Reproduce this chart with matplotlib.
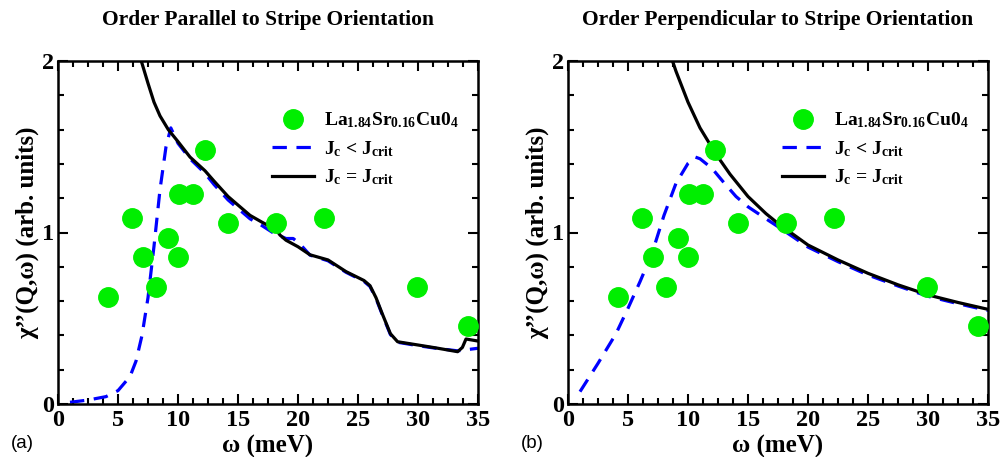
import matplotlib
matplotlib.use("Agg")
import matplotlib.pyplot as plt
from matplotlib.ticker import MultipleLocator

plt.rcParams['font.family'] = ['Liberation Serif', 'DejaVu Serif']
plt.rcParams['font.weight'] = 'bold'
plt.rcParams['mathtext.fontset'] = 'custom'
plt.rcParams['mathtext.rm'] = 'Liberation Serif:bold'
plt.rcParams['mathtext.it'] = 'Liberation Serif:bold'
plt.rcParams['mathtext.bf'] = 'Liberation Serif:bold'

# experimental data (same in both panels)
exp_w = [4.14, 6.17, 7.11, 8.17, 9.19, 9.97, 10.1, 11.28, 12.25, 14.17, 18.2, 22.17, 29.94, 34.14]
exp_chi = [0.626, 1.083, 0.855, 0.684, 0.97, 0.855, 1.224, 1.224, 1.481, 1.057, 1.057, 1.083, 0.684, 0.457]

# panel (a) curves
a_crit_w = [6.94, 7.5, 8.0, 8.5, 9.19, 10.0, 11.0, 12.25, 13.0, 14.17, 15.0, 16.0, 17.0, 17.8, 18.2, 18.5,
            19.0, 20.0, 21.0, 22.5, 24.0, 25.5, 26.0, 26.5, 27.0, 27.7, 28.3, 30.0, 31.5, 33.3, 33.7, 34.0, 35.0]
a_crit_chi = [2.0, 1.87, 1.76, 1.68, 1.60, 1.53, 1.44, 1.36, 1.30, 1.21, 1.16, 1.10, 1.06, 1.03, 1.015, 0.985,
              0.955, 0.917, 0.87, 0.84, 0.772, 0.72, 0.69, 0.62, 0.53, 0.41, 0.363, 0.344, 0.327, 0.305, 0.33,
              0.379, 0.367]
a_sub_w = [1.0, 2.5, 4.0, 5.0, 6.0, 6.5, 7.0, 7.5, 8.0, 8.5, 9.0, 9.4, 10.0, 11.0, 12.25, 13.0, 14.17, 15.0,
           16.0, 17.0, 18.0, 19.0, 19.6, 20.2, 21.0, 22.5, 24.0, 25.5, 26.0, 26.5, 27.0, 27.7, 28.3, 30.0, 31.5,
           33.3, 35.0]
a_sub_chi = [0.01, 0.023, 0.043, 0.078, 0.16, 0.25, 0.40, 0.62, 0.92, 1.25, 1.50, 1.61, 1.52, 1.43, 1.345, 1.28,
             1.19, 1.14, 1.08, 1.04, 0.995, 0.965, 0.965, 0.93, 0.868, 0.835, 0.768, 0.715, 0.685, 0.615, 0.525,
             0.405, 0.36, 0.34, 0.325, 0.31, 0.325]

# panel (b) curves
b_crit_w = [8.71, 9.0, 9.5, 10.0, 11.0, 12.3, 13.5, 15.0, 16.5, 17.5, 20.0, 22.5, 25.0, 27.5, 30.0, 32.5, 35.0]
b_crit_chi = [2.0, 1.94, 1.85, 1.76, 1.61, 1.46, 1.34, 1.21, 1.11, 1.053, 0.927, 0.84, 0.762, 0.695, 0.636,
              0.592, 0.552]
b_sub_w = [1.0, 2.5, 4.0, 5.0, 6.0, 7.0, 8.0, 9.0, 10.0, 10.6, 11.0, 12.0, 13.0, 14.0, 15.0, 16.5, 17.5, 20.0,
           22.5, 25.0, 27.5, 30.0, 32.5, 35.0]
b_sub_chi = [0.072, 0.237, 0.41, 0.558, 0.713, 0.878, 1.10, 1.287, 1.403, 1.44, 1.43, 1.374, 1.29, 1.21, 1.15,
             1.08, 1.034, 0.915, 0.83, 0.752, 0.688, 0.628, 0.585, 0.545]

titles = ["Order Parallel to Stripe Orientation", "Order Perpendicular to Stripe Orientation"]
panel_labels = ["(a)", "(b)"]

fig = plt.figure(figsize=(10.03, 4.57), dpi=100)
lefts = [58 / 1003, 568 / 1003]
W = 420 / 1003
B = (457 - 404) / 457
H = 343 / 457

green = '#00ee00'
blue = '#0000ff'

panels = [(a_sub_w, a_sub_chi, a_crit_w, a_crit_chi), (b_sub_w, b_sub_chi, b_crit_w, b_crit_chi)]
for i, (sw, sc, cw, cc) in enumerate(panels):
    ax = fig.add_axes([lefts[i], B, W, H])
    ax.plot(exp_w, exp_chi, 'o', color=green, markersize=14, linestyle='none',
            label='La$_{\\mathrm{1.84}}$Sr$_{\\mathrm{0.16}}$Cu0$_{\\mathrm{4}}$', zorder=3)
    ax.plot(sw, sc, color=blue, lw=2.3, dashes=(4.5, 3.0), label='J$_{\\mathrm{c}}$ < J$_{\\mathrm{crit}}$', zorder=2)
    ax.plot(cw, cc, color='black', lw=2.3, label='J$_{\\mathrm{c}}$ = J$_{\\mathrm{crit}}$', zorder=2)
    ax.set_xlim(0, 35)
    ax.set_ylim(0, 2)
    ax.xaxis.set_major_locator(MultipleLocator(5))
    ax.xaxis.set_minor_locator(MultipleLocator(1.25))
    ax.yaxis.set_major_locator(MultipleLocator(1))
    ax.yaxis.set_minor_locator(MultipleLocator(0.2))
    ax.tick_params(which='both', direction='in', top=True, right=True, width=1.5, labelsize=17.5)
    ax.tick_params(axis='x', which='major', pad=4)
    ax.tick_params(axis='y', which='major', pad=3)
    ax.tick_params(which='major', length=7)
    ax.tick_params(which='minor', length=4)
    for s in ax.spines.values():
        s.set_linewidth(1.8)
    for lab in ax.get_xticklabels() + ax.get_yticklabels():
        lab.set_fontweight('bold')
    ax.set_xlabel('ω (meV)', fontsize=18, fontweight='bold', labelpad=3)
    ax.set_ylabel('χ’’(Q,ω) (arb. units)', fontsize=18, fontweight='bold', labelpad=2)
    ax.set_title(titles[i], fontsize=15.5, fontweight='bold', pad=26)
    leg = ax.legend(loc='upper left', bbox_to_anchor=(0.49, 0.878), frameon=False, fontsize=14,
                    handlelength=2.2, handletextpad=0.5, labelspacing=0.45, borderaxespad=0)
    fig.text(lefts[i] - 58 / 1003 + 11 / 1003, 1 - 443 / 457, panel_labels[i], fontsize=13.5,
             family='Liberation Sans', fontweight='normal', va='center', ha='left')

fig.savefig('out.png', dpi=100)
